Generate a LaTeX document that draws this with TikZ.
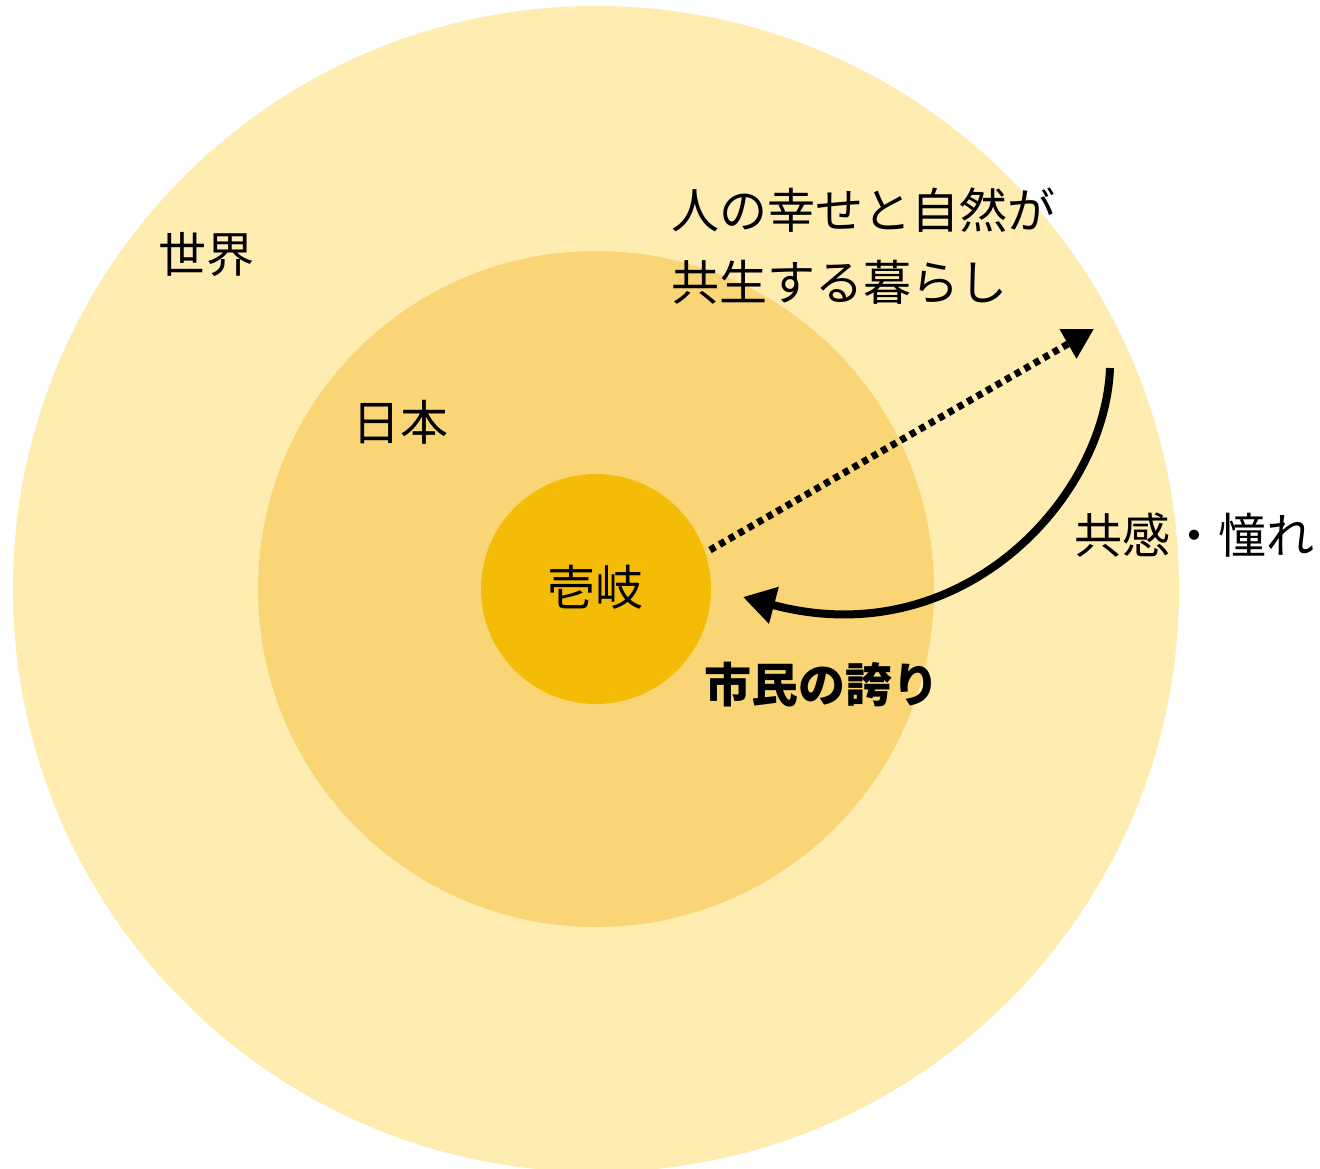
\documentclass[tikz,border=0pt]{standalone}
\usepackage{fontspec}
\setmainfont{Noto Sans CJK JP}
\usetikzlibrary{arrows.meta}
\definecolor{worldc}{HTML}{FEECB1}
\definecolor{japanc}{HTML}{F9D576}
\definecolor{ikic}{HTML}{F5BC07}
\tikzset{
  lbl/.style={inner sep=0pt, anchor=west, font=\fontsize{48}{72}\selectfont, text=black},
  blbl/.style={lbl, font=\fontsize{47}{72}\selectfont\bfseries},
  ring/.style={circle, draw=none, inner sep=0pt},
}
\begin{document}
\begin{tikzpicture}[x=1pt,y=-1pt]
\useasboundingbox[fill=white] (0,0) rectangle (1320,1169);
\node[ring, fill=worldc, minimum size=1166pt] (world) at (596,589) {};
\node[ring, fill=japanc, minimum size=676pt] (japan) at (596,589) {};
\node[ring, fill=ikic, minimum size=230pt] (iki) at (596,589) {};
\node[lbl] (tsekai) at (158,255) {世界};
\node[lbl] (tnihon) at (352,422) {日本};
\node[lbl] (tiki) at (547,587) {壱岐};
\node[lbl, align=left, anchor=north west] (tgoal) at (671,188) {人の幸せと自然が\\共生する暮らし};
\node[lbl] (tkan) at (1074,535) {共感・憧れ};
\node[blbl] (tpride) at (704,685) {市民の誇り};
\coordinate (dstart) at (710,550);
\coordinate (dend) at (1094,329);
\coordinate (cstart) at (1110,368);
\coordinate (cend) at (743,597);
\draw[line width=7pt, dash pattern=on 6pt off 5pt, -{Triangle[length=30pt,width=32pt]}] (dstart) -- (dend);
\draw[line width=8pt, -{Triangle[length=32pt,width=36pt]}] (cstart) .. controls (1105,500) and (960,655) .. (cend);
\end{tikzpicture}
\end{document}
